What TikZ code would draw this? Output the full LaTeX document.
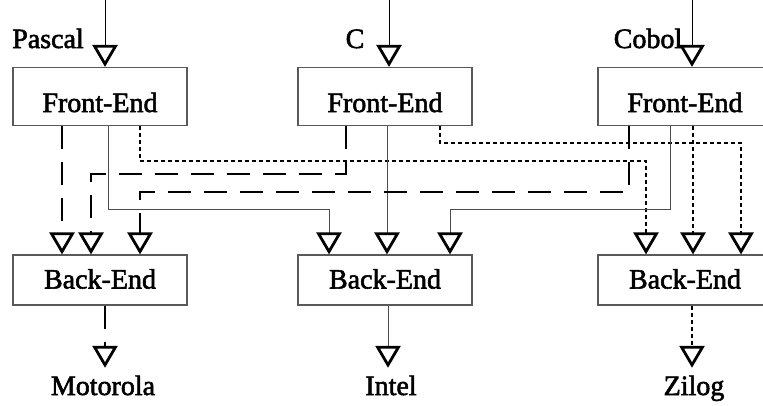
\documentclass[tikz,border=0pt]{standalone}
\usepackage{fontspec}
\setmainfont{Liberation Serif}
\newfontfamily\heavyserif[FakeBold=2]{Liberation Serif}
\usetikzlibrary{arrows.meta}
\begin{document}
\begin{tikzpicture}[x=1pt,y=-1pt,
  fnt/.style={font=\heavyserif\fontsize{28}{30}\selectfont},
  febox/.style={draw=black!65, line width=1.2pt, fill=white, minimum width=174pt, inner sep=0pt, text height=44.5pt, text depth=13.5pt, fnt},
  bebox/.style={draw=black!65, line width=1.2pt, fill=white, minimum width=174pt, inner sep=0pt, text height=33.5pt, text depth=16.5pt, fnt},
  lbl/.style={fnt, inner sep=0pt, anchor=base},
  outlbl/.style={fnt, inner sep=0pt, anchor=base, text height=27pt},
  tip/.style={-{Triangle[open, length=22pt, width=25pt, line width=2.8pt, color=black]}},
  solidc/.style={tip, draw=black!70, line width=1pt},
  dashc/.style={tip, draw=black, line width=2.2pt, dash pattern=on 23pt off 13pt},
  dotc/.style={tip, draw=black, line width=2pt, dash pattern=on 4pt off 3pt},
  inc/.style={tip, draw=black, line width=1pt}]
\clip (0,0) rectangle (763,405);
\fill[white] (0,0) rectangle (763,405);

% front-ends
\node[febox] (FP) at (100,96.5) {Front-End};
\node[febox] (FC) at (385,96.5) {Front-End};
\node[febox] (FB) at (685,96.5) {Front-End};
% back-ends
\node[bebox] (BP) at (100,280) {Back-End};
\node[bebox] (BC) at (385,280) {Back-End};
\node[bebox] (BB) at (685,280) {Back-End};

% language labels
\node[lbl] (lP) at (48,48) {Pascal};
\node[lbl] (lC) at (355,48) {C};
\node[lbl] (lB) at (648,48) {Cobol};

% target labels
\node[outlbl] (tM) at (103,395) {Motorola};
\node[outlbl] (tI) at (391,395) {Intel};
\node[outlbl] (tZ) at (694,395) {Zilog};

% inputs
\coordinate (iP) at (105,0);
\coordinate (iC) at (389,0);
\coordinate (iB) at (692,0);
\draw[inc] (iP) -- (iP |- FP.north);
\draw[inc] (iC) -- (iC |- FC.north);
\draw[inc] (iB) -- (iB |- FB.north);

% from Pascal front-end
\draw[dashc] (62,0 |- FP.south) -- (62,0 |- BP.north);
\draw[solidc] (108,0 |- FP.south) -- (108,209) -- (329,209) -- (329,0 |- BC.north);
\draw[dotc] (140,0 |- FP.south) -- (140,161) -- (646,161) -- (646,0 |- BB.north);

% from C front-end
\draw[dashc] (346,0 |- FC.south) -- (346,174) -- (91,174) -- (91,0 |- BP.north);
\draw[solidc] (387,0 |- FC.south) -- (387,0 |- BC.north);
\draw[dotc] (440,0 |- FC.south) -- (440,143) -- (741,143) -- (741,0 |- BB.north);

% from Cobol front-end
\draw[dashc] (629,0 |- FB.south) -- (629,192) -- (140,192) -- (140,0 |- BP.north);
\draw[solidc] (670,0 |- FB.south) -- (670,209) -- (450,209) -- (450,0 |- BC.north);
\draw[dotc] (693,0 |- FB.south) -- (693,0 |- BB.north);

% outputs
\draw[dashc] (105,0 |- BP.south) -- (105,0 |- tM.north);
\draw[solidc] (388,0 |- BC.south) -- (388,0 |- tI.north);
\draw[dotc] (692,0 |- BB.south) -- (692,0 |- tZ.north);
\end{tikzpicture}
\end{document}
